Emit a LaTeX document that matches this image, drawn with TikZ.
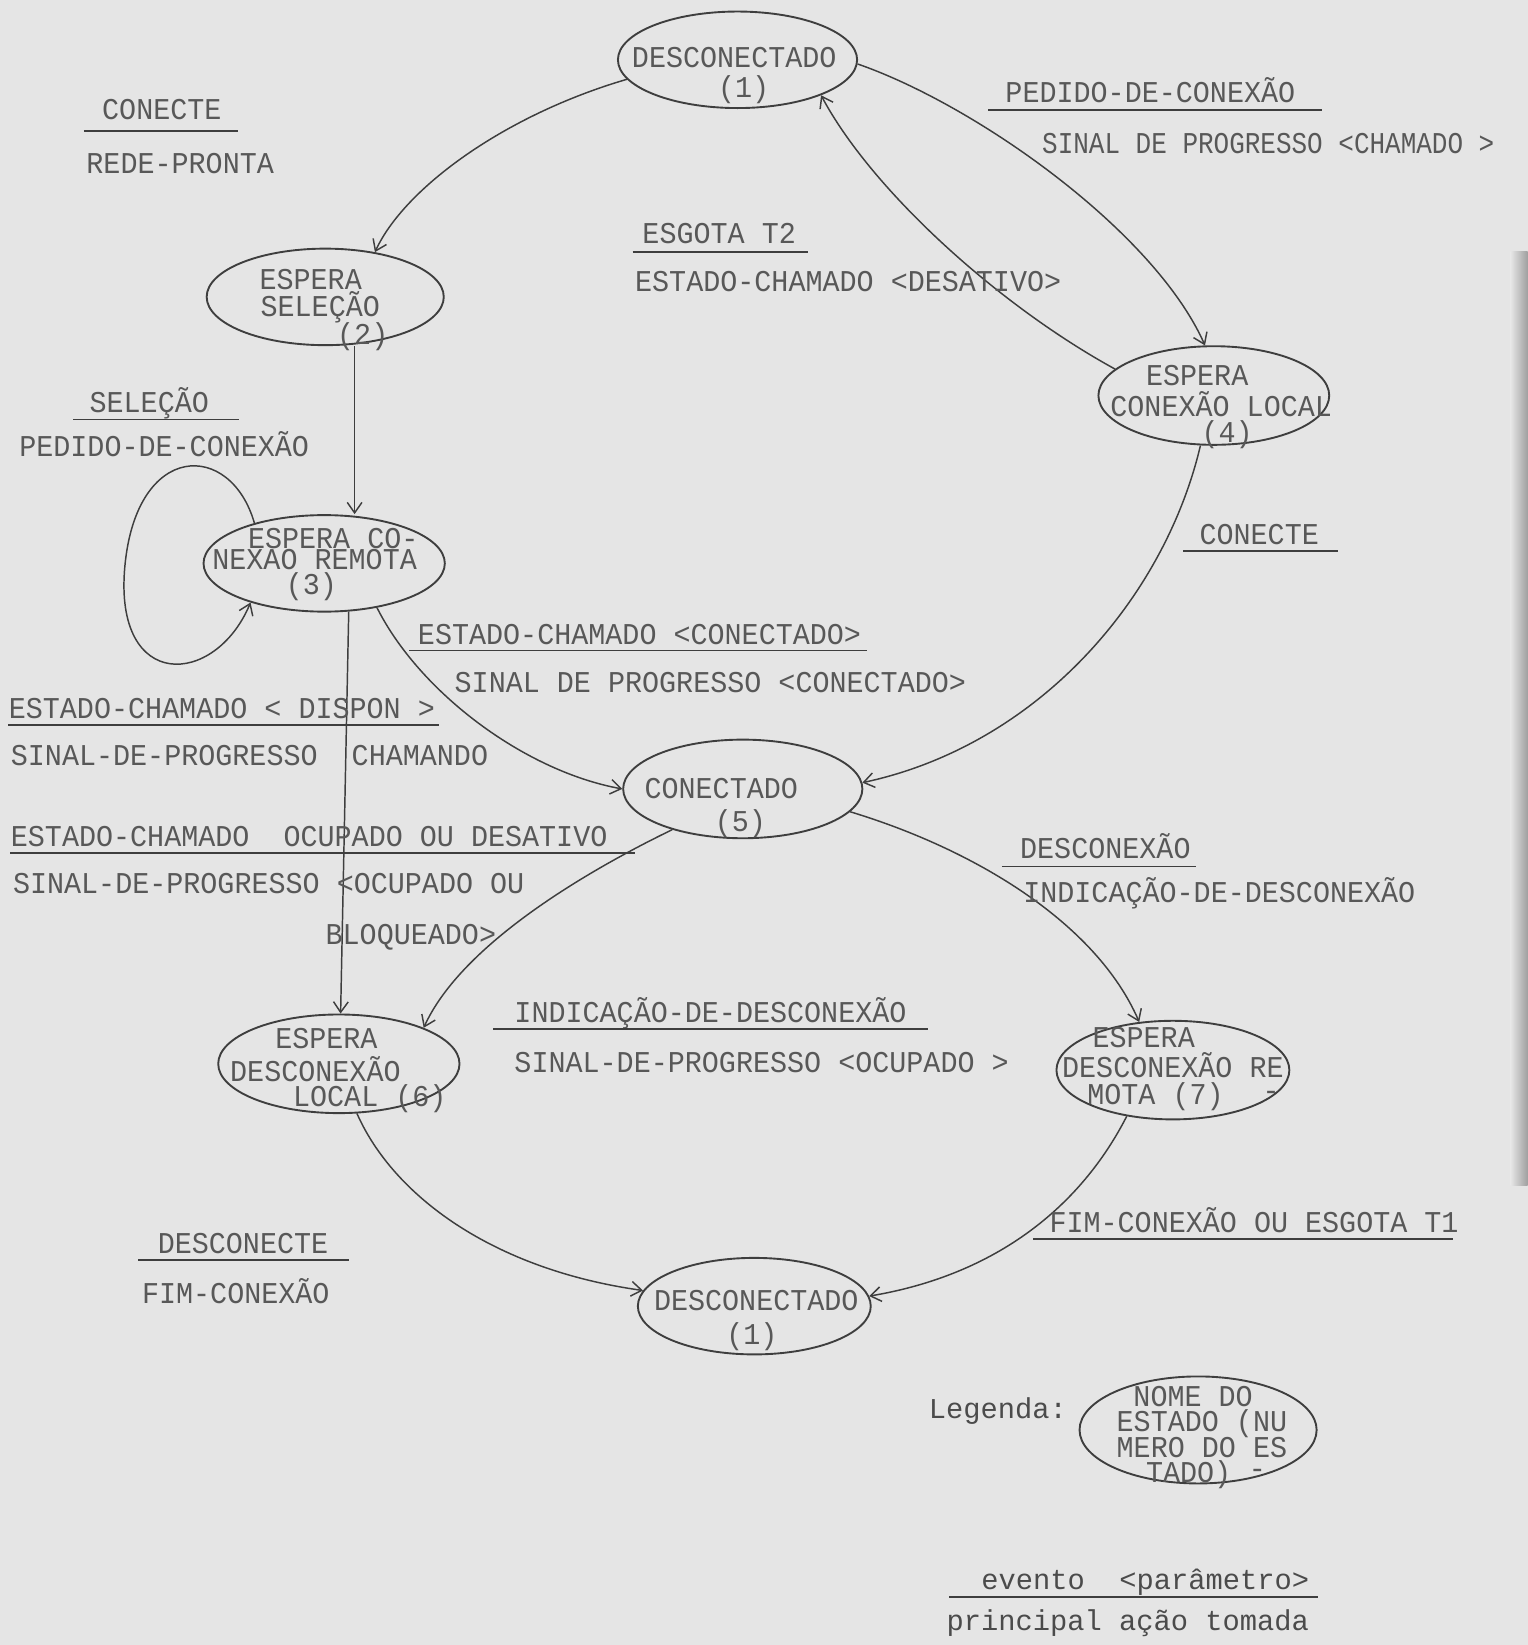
\documentclass[tikz,border=0pt]{standalone}
\usepackage{fontspec}
\newfontfamily\tw[FakeStretch=0.94]{Liberation Mono}
\newfontfamily\twn[FakeStretch=0.86]{Liberation Mono}
\newfontfamily\cour{Liberation Mono}
\usetikzlibrary{arrows.meta,shapes.geometric}
\definecolor{paper}{RGB}{229,229,229}
\definecolor{ink}{RGB}{62,62,62}
\definecolor{tink}{RGB}{88,88,88}
\tikzset{
  est/.style n args={2}{ellipse, draw=ink, line width=0.9pt, inner sep=0pt, minimum width=#1, minimum height=#2},
  lab/.style={font=\tw\fontsize{14.4}{14}\selectfont, text=tink, inner sep=0pt, anchor=base west},
  labn/.style={font=\twn\fontsize{14.4}{14}\selectfont, text=tink, inner sep=0pt, anchor=base west},
  leglab/.style={font=\cour\fontsize{13.7}{14}\selectfont, text=tink!85!black, inner sep=0pt, anchor=base west},
  arr/.style={draw=ink, line width=0.7pt, -{Straight Barb[length=5pt,width=7pt]}},
  ul/.style={draw=ink, line width=0.8pt}
}
\begin{document}
\begin{tikzpicture}[x=0.5pt,y=-0.5pt]
\useasboundingbox (0,0) rectangle (1456,1568);
\fill[paper] (0,0) rectangle (1456,1568);
\shade[left color=paper, right color=gray!75] (1440,240) rectangle (1456,1130);

% ---------- states ----------
\node[est={114pt}{46pt}] (e1) at (703,57) {};
\node[est={113pt}{46pt}] (e2) at (310,283) {};
\node[est={115pt}{46pt}] (e3) at (309,537) {};
\node[est={110pt}{47pt}] (e4) at (1157,377) {};
\node[est={114pt}{47pt}] (e5) at (708,752) {};
\node[est={115pt}{47pt}] (e6) at (323,1014) {};
\node[est={111pt}{47pt}] (e7) at (1118,1020) {};
\node[est={111pt}{46pt}] (e8) at (719,1245) {};
\node[est={113pt}{51pt}] (eL) at (1142,1363) {};

% state texts
\node[lab] (e1a) at (602,64) {DESCONECTADO};
\node[lab] (e1b) at (684,93) {(1)};
\node[lab] (e2a) at (247,276) {ESPERA};
\node[lab] (e2b) at (248,302) {SELEÇÃO};
\node[lab] (e2c) at (321,328) {(2)};
\node[lab] (e3a) at (236,523) {ESPERA CO-};
\node[lab] (e3b) at (202,543) {NEXAO REMOTA};
\node[lab] (e3c) at (272,567) {(3)};
\node[lab] (e4a) at (1092,367) {ESPERA};
\node[lab] (e4b) at (1058,397) {CONEXÃO LOCAL};
\node[lab] (e4c) at (1145,422) {(4)};
\node[lab] (e5a) at (614,761) {CONECTADO};
\node[lab] (e5b) at (681,793) {(5)};
\node[lab] (e6a) at (262,999) {ESPERA};
\node[lab] (e6b) at (219,1031) {DESCONEXÃO};
\node[lab] (e6c) at (279,1055) {LOCAL (6)};
\node[lab] (e7a) at (1041,998) {ESPERA};
\node[lab] (e7b) at (1012,1027) {DESCONEXÃO RE};
\node[lab] (e7c) at (1036,1053) {MOTA (7)};
\node[lab] (e7d) at (1203,1049) {-};
\node[lab] (e8a) at (623,1249) {DESCONECTADO};
\node[lab] (e8b) at (692,1282) {(1)};
\node[lab] (eLa) at (1080,1341) {NOME DO};
\node[lab] (eLb) at (1064,1364) {ESTADO (NU};
\node[lab] (eLc) at (1064,1389) {MERO DO ES};
\node[lab] (eLd) at (1092,1413) {TADO)};
\node[lab] (eLe) at (1190,1409) {-};

% ---------- transitions ----------
\draw[arr] (e1.190) .. controls (480,110) and (385,180) .. (e2.42);
\draw[arr] (e1.-2) .. controls (930,100) and (1100,220) .. (e4.100);
\draw[arr] (e4.165) .. controls (950,290) and (830,180) .. (e1.-23);
\coordinate (v23) at (338,0);
\draw[arr] (v23 |- e2.south) -- (v23 |- e3.north);
\coordinate (lp) at (119,540);
\draw[arr] (e3.150) .. controls (220,420) and (130,420) .. (lp) .. controls (108,660) and (205,655) .. (e3.208);
\draw[arr] (e3.-40) .. controls (400,660) and (500,735) .. (e5.180);
\draw[arr] (e3.-63) -- (e6.88);
\draw[arr] (e5.210) .. controls (560,830) and (440,900) .. (e6.23);
\draw[arr] (e4.-105) .. controls (1110,570) and (990,710) .. (e5.3);
\draw[arr] (e5.-12) .. controls (930,810) and (1045,880) .. (e7.125);
\draw[arr] (e6.-70) .. controls (375,1140) and (470,1210) .. (e8.172);
\draw[arr] (e7.-135) .. controls (1030,1150) and (950,1215) .. (e8.5);

% ---------- labels ----------
\node[lab] (l1) at (97,114) {CONECTE};
\draw[ul] (80,125) -- (227,125);
\node[lab] (l2) at (82,165) {REDE-PRONTA};

\node[lab] (l3) at (958,98) {PEDIDO-DE-CONEXÃO};
\draw[ul] (942,105) -- (1260,105);
\node[labn] (l4) at (993,146) {SINAL DE PROGRESSO <CHAMADO >};

\node[lab] (l5) at (612,232) {ESGOTA T2};
\draw[ul] (603,240) -- (770,240);
\node[lab] (l6) at (605,278) {ESTADO-CHAMADO <DESATIVO>};

\node[lab] (l7) at (85,393) {SELEÇÃO};
\draw[ul] (70,400) -- (228,400);
\node[lab] (l8) at (18,435) {PEDIDO-DE-CONEXÃO};

\node[lab] (l9) at (1143,519) {CONECTE};
\draw[ul] (1128,525) -- (1275,525);

\node[lab] (l10) at (398,614) {ESTADO-CHAMADO <CONECTADO>};
\draw[ul] (390,620) -- (826,620);
\node[lab] (l11) at (433,660) {SINAL DE PROGRESSO <CONECTADO>};

\node[lab] (l12) at (8,685) {ESTADO-CHAMADO < DISPON >};
\draw[ul] (8,691) -- (418,691);
\node[lab] (l13) at (10,730) {SINAL-DE-PROGRESSO\ \ CHAMANDO};

\node[lab] (l14) at (10,807) {ESTADO-CHAMADO\ \ OCUPADO OU DESATIVO};
\draw[ul] (10,813) -- (605,813);
\node[lab] (l15) at (12,852) {SINAL-DE-PROGRESSO <OCUPADO OU};
\node[lab] (l16) at (310,900) {BLOQUEADO>};

\node[lab] (l17) at (972,818) {DESCONEXÃO};
\draw[ul] (955,826) -- (1140,826);
\node[lab] (l18) at (975,860) {INDICAÇÃO-DE-DESCONEXÃO};

\node[lab] (l19) at (490,975) {INDICAÇÃO-DE-DESCONEXÃO};
\draw[ul] (470,981) -- (885,981);
\node[lab] (l20) at (490,1022) {SINAL-DE-PROGRESSO <OCUPADO >};

\node[lab] (l21) at (150,1195) {DESCONECTE};
\draw[ul] (132,1201) -- (333,1201);
\node[lab] (l22) at (135,1242) {FIM-CONEXÃO};

\node[lab] (l23) at (1000,1175) {FIM-CONEXÃO OU ESGOTA T1};
\draw[ul] (985,1181) -- (1385,1181);

% ---------- legend ----------
\node[leglab] (g1) at (885,1352) {Legenda:};
\node[leglab] (g2) at (935,1515) {evento\ \ <parâmetro>};
\draw[ul] (905,1522) -- (1256,1522);
\node[leglab] (g3) at (902,1554) {principal ação tomada};
\end{tikzpicture}
\end{document}
